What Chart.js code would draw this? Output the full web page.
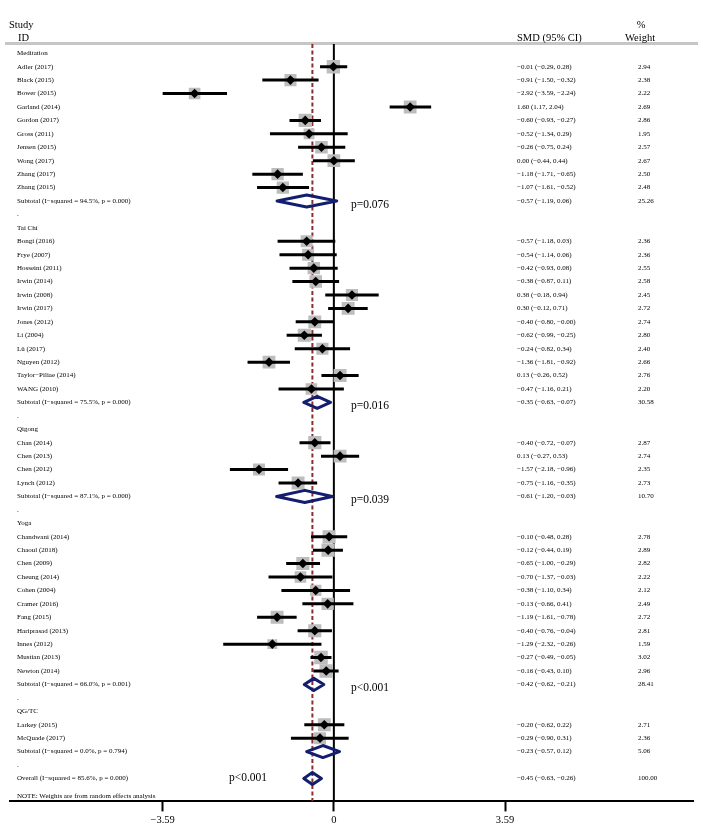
<!DOCTYPE html>
<html>
<head>
<meta charset="utf-8">
<script src="https://cdn.jsdelivr.net/npm/chart.js@4"></script>
<style>
  html, body { margin: 0; padding: 0; background: #fff; }
  canvas { display: block; }
</style>
</head>
<body>
<canvas id="forest" width="703" height="835"></canvas>
<script>
// one entry per row of the plot, top to bottom
var rowLabels = [
  'Meditation', 'Adler (2017)', 'Black (2015)', 'Bower (2015)', 'Garland (2014)', 'Gordon (2017)',
  'Gross (2011)', 'Jensen (2015)', 'Wong (2017)', 'Zhang (2017)', 'Zhang (2015)',
  'Subtotal (I\u2212squared = 94.5%, p = 0.000)', '.',
  'Tai Chi', 'Bongi (2016)', 'Frye (2007)', 'Hosseini (2011)', 'Irwin (2014)', 'Irwin (2008)',
  'Irwin (2017)', 'Jones (2012)', 'Li (2004)', 'L\u00fc (2017)', 'Nguyen (2012)',
  'Taylor\u2212Piliae (2014)', 'WANG (2010)',
  'Subtotal (I\u2212squared = 75.5%, p = 0.000)', '.',
  'Qigong', 'Chan (2014)', 'Chen (2013)', 'Chen (2012)', 'Lynch (2012)',
  'Subtotal (I\u2212squared = 87.1%, p = 0.000)', '.',
  'Yoga', 'Chandwani (2014)', 'Chaoul (2018)', 'Chen (2009)', 'Cheung (2014)', 'Cohen (2004)',
  'Cramer (2016)', 'Fang (2015)', 'Hariprasad (2013)', 'Innes (2012)', 'Mustian (2013)', 'Newton (2014)',
  'Subtotal (I\u2212squared = 66.0%, p = 0.001)', '.',
  'QG/TC', 'Larkey (2015)', 'McQuade (2017)',
  'Subtotal (I\u2212squared = 0.0%, p = 0.794)', '.',
  'Overall (I\u2212squared = 85.6%, p = 0.000)',
  'NOTE: Weights are from random effects analysis'
];

var smd = [
  null, -0.01, -0.91, -2.92, 1.60, -0.60, -0.52, -0.26, 0.00, -1.18, -1.07, -0.57, null,
  null, -0.57, -0.54, -0.42, -0.38, 0.38, 0.30, -0.40, -0.62, -0.24, -1.36, 0.13, -0.47, -0.35, null,
  null, -0.40, 0.13, -1.57, -0.75, -0.61, null,
  null, -0.10, -0.12, -0.65, -0.70, -0.38, -0.13, -1.19, -0.40, -1.29, -0.27, -0.16, -0.42, null,
  null, -0.20, -0.29, -0.23, null,
  -0.45, null
];

var ciLow = [
  null, -0.29, -1.50, -3.59, 1.17, -0.93, -1.34, -0.75, -0.44, -1.71, -1.61, -1.19, null,
  null, -1.18, -1.14, -0.93, -0.87, -0.18, -0.12, -0.80, -0.99, -0.82, -1.81, -0.26, -1.16, -0.63, null,
  null, -0.72, -0.27, -2.18, -1.16, -1.20, null,
  null, -0.48, -0.44, -1.00, -1.37, -1.10, -0.66, -1.61, -0.76, -2.32, -0.49, -0.43, -0.62, null,
  null, -0.62, -0.90, -0.57, null,
  -0.63, null
];

var ciHigh = [
  null, 0.28, -0.32, -2.24, 2.04, -0.27, 0.29, 0.24, 0.44, -0.65, -0.52, 0.06, null,
  null, 0.03, 0.06, 0.08, 0.11, 0.94, 0.71, -0.004, -0.25, 0.34, -0.92, 0.52, 0.21, -0.07, null,
  null, -0.07, 0.53, -0.96, -0.35, -0.03, null,
  null, 0.28, 0.19, -0.29, -0.03, 0.34, 0.41, -0.78, -0.04, -0.26, -0.05, 0.10, -0.21, null,
  null, 0.22, 0.31, 0.12, null,
  -0.26, null
];

var weights = [
  null, 2.94, 2.38, 2.22, 2.69, 2.86, 1.95, 2.57, 2.67, 2.50, 2.48, 25.26, null,
  null, 2.36, 2.36, 2.55, 2.58, 2.45, 2.72, 2.74, 2.80, 2.40, 2.66, 2.76, 2.20, 30.58, null,
  null, 2.87, 2.74, 2.35, 2.73, 10.70, null,
  null, 2.78, 2.89, 2.82, 2.22, 2.12, 2.49, 2.72, 2.81, 1.59, 3.02, 2.96, 28.41, null,
  null, 2.71, 2.36, 5.06, null,
  100.00, null
];

var pooledRows = [11, 26, 33, 47, 52, 54];
var overallRow = 54;
var pLabels = ['p=0.076', 'p=0.016', 'p=0.039', 'p<0.001', 'p<0.001'];
var pRows = [11, 26, 33, 47, 54];
var xTicks = [-3.59, 0, 3.59];

var yTop = -0.69, yBottom = 55.71;
var serif = '"Liberation Serif", "Times New Roman", serif';

function fmt(v) {
  var s = Math.abs(v).toFixed(2);
  return (v < 0 ? '\u2212' : '') + s;
}

var studyRows = [];
for (var i = 0; i < rowLabels.length; i++) {
  if (smd[i] !== null && pooledRows.indexOf(i) < 0) studyRows.push(i);
}

var datasets = [];

// line of no effect and overall estimate
datasets.push({
  data: [{ x: 0, y: yTop }, { x: 0, y: yBottom }],
  showLine: true, borderColor: '#000', borderWidth: 2, pointRadius: 0, order: 20
});
datasets.push({
  data: [{ x: smd[overallRow], y: yTop }, { x: smd[overallRow], y: yBottom }],
  showLine: true, borderColor: '#8c2d2d', borderWidth: 2, borderDash: [4, 2.5],
  pointRadius: 0, order: 19
});

// weight boxes (side grows with sqrt of weight)
datasets.push({
  data: studyRows.map(function (r) { return { x: smd[r], y: r, w: weights[r] }; }),
  pointStyle: 'rect',
  pointRadius: function (c) { return c.raw ? 7.8 * Math.sqrt(c.raw.w) / Math.SQRT2 : 0; },
  backgroundColor: '#bdbdbd', borderWidth: 0, order: 18
});

// confidence intervals
studyRows.forEach(function (r) {
  datasets.push({
    data: [{ x: ciLow[r], y: r }, { x: ciHigh[r], y: r }],
    showLine: true, borderColor: '#000', borderWidth: 3, pointRadius: 0,
    borderCapStyle: 'butt', order: 10
  });
});

// point estimates
datasets.push({
  data: studyRows.map(function (r) { return { x: smd[r], y: r }; }),
  pointStyle: 'rectRot', pointRadius: 4.8, backgroundColor: '#000', borderWidth: 0, order: 5
});

// pooled diamonds
var dh = 0.45;
pooledRows.forEach(function (r) {
  datasets.push({
    data: [
      { x: ciLow[r], y: r }, { x: smd[r], y: r - dh }, { x: ciHigh[r], y: r },
      { x: smd[r], y: r + dh }, { x: ciLow[r], y: r }, { x: smd[r], y: r - dh }
    ],
    showLine: true, borderColor: '#141e6e', borderWidth: 3, pointRadius: 0,
    borderJoinStyle: 'round', borderCapStyle: 'round', fill: false, order: 1
  });
});

var forestText = {
  id: 'forestText',
  beforeDatasetsDraw: function (chart) {
    var ctx = chart.ctx, a = chart.chartArea;
    ctx.save();
    ctx.strokeStyle = '#c6c6c6';
    ctx.lineWidth = 3;
    ctx.beginPath();
    ctx.moveTo(5, a.top - 0.5);
    ctx.lineTo(698, a.top - 0.5);
    ctx.stroke();
    ctx.restore();
  },
  afterDraw: function (chart) {
    var ctx = chart.ctx, ys = chart.scales.y;
    ctx.save();
    ctx.fillStyle = '#000';
    ctx.textBaseline = 'middle';

    ctx.font = '10.5px ' + serif;
    ctx.textAlign = 'left';
    ctx.fillText('Study', 9, 25);
    ctx.fillText('ID', 18, 38);
    ctx.fillText('SMD (95% CI)', 517, 38);
    ctx.fillText('Weight', 625, 38);
    ctx.textAlign = 'center';
    ctx.fillText('%', 641, 25);

    ctx.textAlign = 'left';
    ctx.font = '7px ' + serif;
    for (var i = 0; i < rowLabels.length; i++) {
      var py = ys.getPixelForValue(i);
      if (i === rowLabels.length - 1) py += 4;
      ctx.fillText(rowLabels[i], 17, py);
      if (smd[i] !== null) {
        ctx.fillText(fmt(smd[i]) + ' (' + fmt(ciLow[i]) + ', ' + fmt(ciHigh[i]) + ')', 517, py);
        ctx.fillText(weights[i].toFixed(2), 638, py);
      }
    }

    ctx.font = '11.5px ' + serif;
    for (var k = 0; k < pLabels.length; k++) {
      var r = pRows[k];
      if (r === overallRow) ctx.fillText(pLabels[k], 229, ys.getPixelForValue(r));
      else ctx.fillText(pLabels[k], 351, ys.getPixelForValue(r) + 4);
    }
    ctx.restore();
  }
};

new Chart(document.getElementById('forest'), {
  type: 'scatter',
  data: { datasets: datasets },
  plugins: [forestText],
  options: {
    responsive: false,
    animation: false,
    layout: { padding: { left: 6, right: 5, top: 44, bottom: 5 } },
    plugins: { legend: { display: false }, tooltip: { enabled: false } },
    scales: {
      x: {
        type: 'linear', min: -6.8, max: 7.54,
        afterBuildTicks: function (axis) { axis.ticks = xTicks.map(function (v) { return { value: v }; }); },
        border: { display: true, color: '#000', width: 2 },
        grid: { drawOnChartArea: false, drawTicks: true, tickLength: 10, tickWidth: 2, tickColor: '#000' },
        ticks: {
          color: '#000', font: { family: serif, size: 10.5 }, padding: 3, maxRotation: 0,
          callback: function (v) { return v === 0 ? '0' : fmt(v); }
        }
      },
      y: {
        type: 'linear', reverse: true, min: yTop, max: yBottom, display: false
      }
    }
  }
});
</script>
</body>
</html>
